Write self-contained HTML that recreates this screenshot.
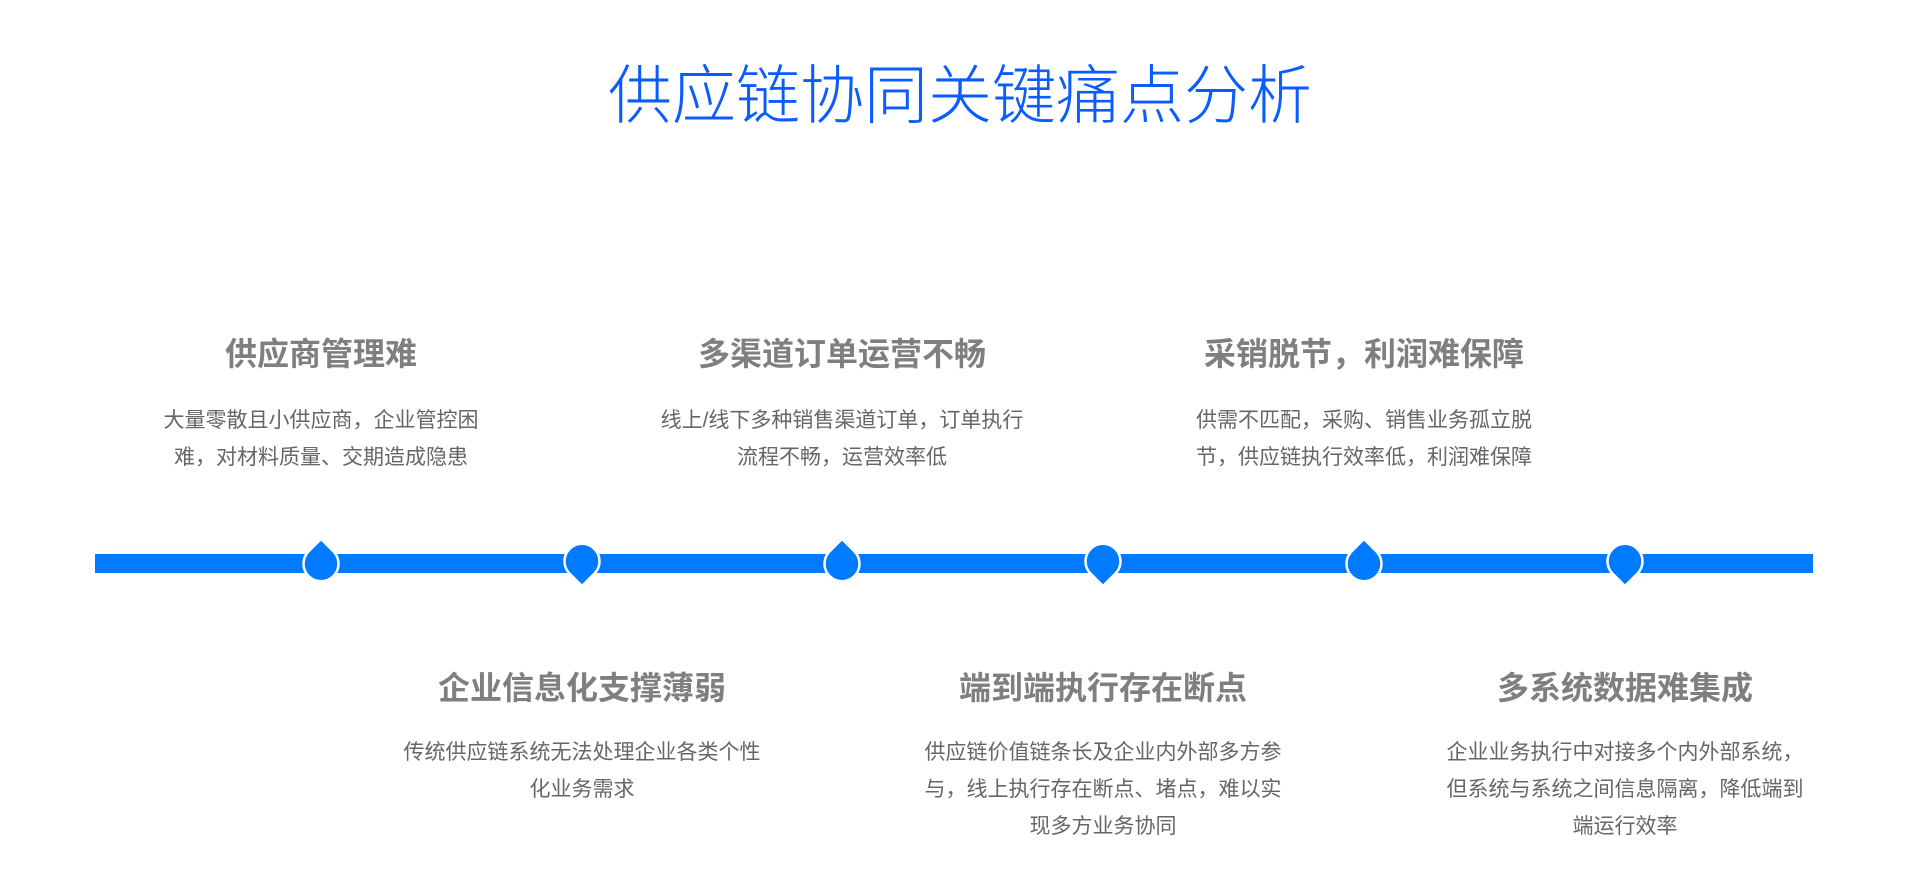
<!DOCTYPE html>
<html><head><meta charset="utf-8"><style>
body{margin:0;width:1920px;height:892px;background:#fff;position:relative;overflow:hidden;font-family:"Liberation Sans","Noto Sans CJK SC",sans-serif}
.t{position:absolute;left:0;width:1920px;text-align:center;top:55px;font-size:64px;line-height:72px;color:#0a5cff;font-weight:300;font-family:"Noto Sans CJK SC Light","Liberation Sans","Noto Sans CJK SC",sans-serif}
.h{position:absolute;width:500px;margin-left:-250px;text-align:center;font-size:32px;line-height:40px;font-weight:bold;color:#7f7f7f;white-space:nowrap}
.d{position:absolute;width:500px;margin-left:-250px;text-align:center;font-size:21px;line-height:37px;color:#666;white-space:nowrap}
.bar{position:absolute;left:95px;top:554px;width:1718px;height:19px;background:#007bff}
</style></head><body>
<div class="t">供应链协同关键痛点分析</div>
<div class="bar"></div>
<svg width="1920" height="892" style="position:absolute;left:0;top:0">
<g fill="#007bff" stroke="#fff" stroke-width="2.5">
<path d="M321 539 L334 552 A17.5 17.5 0 1 1 308 552 Z"/>
<path d="M582 586 L569 573 A17.5 17.5 0 1 1 595 573 Z"/>
<path d="M842 539 L855 552 A17.5 17.5 0 1 1 829 552 Z"/>
<path d="M1103 586 L1090 573 A17.5 17.5 0 1 1 1116 573 Z"/>
<path d="M1364 539 L1377 552 A17.5 17.5 0 1 1 1351 552 Z"/>
<path d="M1625 586 L1612 573 A17.5 17.5 0 1 1 1638 573 Z"/>
</g></svg>
<div class="h" style="left:321px;top:334px">供应商管理难</div>
<div class="d" style="left:321px;top:402px">大量零散且小供应商，企业管控困<br>难，对材料质量、交期造成隐患</div>
<div class="h" style="left:842px;top:334px">多渠道订单运营不畅</div>
<div class="d" style="left:842px;top:402px">线上/线下多种销售渠道订单，订单执行<br>流程不畅，运营效率低</div>
<div class="h" style="left:1364px;top:334px">采销脱节，利润难保障</div>
<div class="d" style="left:1364px;top:402px">供需不匹配，采购、销售业务孤立脱<br>节，供应链执行效率低，利润难保障</div>
<div class="h" style="left:582px;top:668px">企业信息化支撑薄弱</div>
<div class="d" style="left:582px;top:734px">传统供应链系统无法处理企业各类个性<br>化业务需求</div>
<div class="h" style="left:1103px;top:668px">端到端执行存在断点</div>
<div class="d" style="left:1103px;top:734px">供应链价值链条长及企业内外部多方参<br>与，线上执行存在断点、堵点，难以实<br>现多方业务协同</div>
<div class="h" style="left:1625px;top:668px">多系统数据难集成</div>
<div class="d" style="left:1625px;top:734px">企业业务执行中对接多个内外部系统，<br>但系统与系统之间信息隔离，降低端到<br>端运行效率</div>
</body></html>
